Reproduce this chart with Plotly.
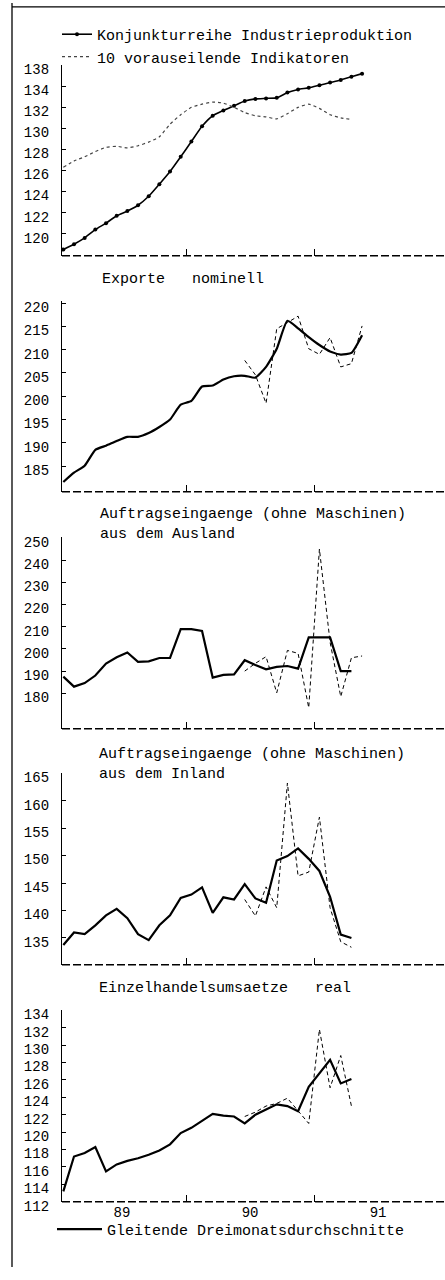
import plotly.graph_objects as go

# ---------------- data (month index: 0 = Jan 1989) ----------------
year_labels = ["89", "90", "91"]
year_label_pos = [6, 18, 30]      # mid-year (months)
year_bounds = [12, 24]            # year boundaries (months)

# Panel 1
ip_months = list(range(29))
ip = [118.5, 119.0, 119.6, 120.4, 121.0, 121.7, 122.15, 122.7, 123.55, 124.7,
      125.9, 127.3, 128.75, 130.2, 131.2, 131.7, 132.15, 132.6, 132.8, 132.85,
      132.9, 133.4, 133.7, 133.85, 134.1, 134.35, 134.6, 134.9, 135.2]
ind_months = list(range(28))
ind = [126.3, 126.9, 127.3, 127.8, 128.2, 128.3, 128.15, 128.35, 128.7, 129.2,
       130.4, 131.3, 132.0, 132.3, 132.5, 132.4, 132.0, 131.5, 131.2, 131.1,
       130.9, 131.4, 132.0, 132.3, 131.9, 131.3, 131.0, 130.85]

# Panel 2: Exporte nominell
exp_ma_months = list(range(29))
exp_ma = [181.6, 183.6, 185.1, 188.5, 189.4, 190.4, 191.3, 191.3, 192.1, 193.4,
          195.0, 198.2, 199.0, 202.1, 202.3, 203.6, 204.3, 204.4, 204.0, 206.3,
          210.2, 216.2, 214.6, 212.7, 211.0, 209.6, 208.95, 209.3, 213.1]
exp_raw_months = list(range(17, 29))
exp_raw = [207.7, 204.6, 198.5, 214.5, 215.8, 217.2, 210.2, 209.0, 212.6, 206.3,
           207.0, 215.1]

# Panel 3: Auftragseingaenge Ausland
aus_ma_months = list(range(28))
aus_ma = [187.5, 183.0, 184.6, 188.0, 193.4, 196.2, 198.4, 194.2, 194.4, 195.9,
          195.9, 208.9, 208.9, 208.1, 187.1, 188.3, 188.5, 194.9, 192.7, 190.8,
          191.9, 192.3, 191.1, 205.2, 205.2, 205.2, 190.0, 190.0]
aus_raw_months = list(range(17, 29))
aus_raw = [190.0, 193.5, 196.5, 180.2, 199.3, 198.0, 173.5, 245.0, 203.0, 178.5,
           196.0, 196.8]

# Panel 4: Auftragseingaenge Inland
inl_ma_months = list(range(28))
inl_ma = [133.7, 136.0, 135.7, 137.3, 139.1, 140.3, 138.6, 135.7, 134.6, 137.3,
          139.1, 142.3, 142.9, 144.2, 139.55, 142.4, 142.0, 144.8, 142.2, 141.4,
          149.1, 149.9, 151.3, 149.4, 147.2, 142.5, 135.6, 135.0]
inl_raw_months = list(range(17, 28))
inl_raw = [142.0, 139.0, 144.3, 140.5, 163.2, 146.3, 147.0, 157.0, 140.5, 134.3,
           133.3]

# Panel 5: Einzelhandelsumsaetze real
ein_ma_months = list(range(28))
ein_ma = [113.2, 117.2, 117.6, 118.3, 115.5, 116.3, 116.7, 117.0, 117.4, 117.9,
          118.6, 119.9, 120.5, 121.3, 122.1, 121.9, 121.8, 121.0, 122.0, 122.6,
          123.2, 123.0, 122.4, 125.2, 126.7, 128.3, 125.6, 126.1]
ein_raw_months = list(range(17, 28))
ein_raw = [121.8, 122.3, 123.0, 123.3, 123.9, 122.4, 121.0, 131.8, 125.1, 128.8,
           123.0]

# y axes: ranges / ticks
p1_ticks = [120, 122, 124, 126, 128, 130, 132, 134, 136]
p1_ticktext = ["120", "122", "124", "126", "128", "130", "132", "134", "138"]
p2_ticks = [185, 190, 195, 200, 205, 210, 215, 220]
p3_ticks = [180, 190, 200, 210, 220, 230, 240, 250]
p4_ticks = [135, 140, 145, 150, 155, 160, 165]
p5_ticks = [112, 114, 116, 118, 120, 122, 124, 126, 128, 130, 132, 134]

W, H = 445, 1280
FONT = "Liberation Mono"


def mid(ms):
    return [m + 0.5 for m in ms]


def px_x(p):
    return p / W


def px_y(p):
    return 1 - p / H


fig = go.Figure()

MA_LINE = dict(color="black", width=2.2)
RAW_LINE = dict(color="black", width=1, dash="4px,3px")

# panel 1
fig.add_trace(go.Scatter(x=mid(ip_months), y=ip, mode="lines+markers",
                         name="Konjunkturreihe Industrieproduktion",
                         line=dict(color="black", width=1.6, shape="spline", smoothing=0.5),
                         marker=dict(size=4, color="black"),
                         xaxis="x", yaxis="y", legend="legend"))
fig.add_trace(go.Scatter(x=mid(ind_months), y=ind, mode="lines",
                         name="10 vorauseilende Indikatoren",
                         line=dict(color="#444", width=1.2, dash="dot", shape="spline", smoothing=0.5),
                         xaxis="x", yaxis="y", legend="legend"))
# panel 2
fig.add_trace(go.Scatter(x=mid(exp_raw_months), y=exp_raw, mode="lines", line=RAW_LINE,
                         showlegend=False, xaxis="x2", yaxis="y2"))
fig.add_trace(go.Scatter(x=mid(exp_ma_months), y=exp_ma, mode="lines",
                         line=dict(color="black", width=2.2, shape="spline", smoothing=0.5),
                         showlegend=False, xaxis="x2", yaxis="y2"))
# panel 3
fig.add_trace(go.Scatter(x=mid(aus_raw_months), y=aus_raw, mode="lines", line=RAW_LINE,
                         showlegend=False, xaxis="x3", yaxis="y3"))
fig.add_trace(go.Scatter(x=mid(aus_ma_months), y=aus_ma, mode="lines", line=MA_LINE,
                         showlegend=False, xaxis="x3", yaxis="y3"))
# panel 4
fig.add_trace(go.Scatter(x=mid(inl_raw_months), y=inl_raw, mode="lines", line=RAW_LINE,
                         showlegend=False, xaxis="x4", yaxis="y4"))
fig.add_trace(go.Scatter(x=mid(inl_ma_months), y=inl_ma, mode="lines", line=MA_LINE,
                         showlegend=False, xaxis="x4", yaxis="y4"))
# panel 5
fig.add_trace(go.Scatter(x=mid(ein_raw_months), y=ein_raw, mode="lines", line=RAW_LINE,
                         showlegend=False, xaxis="x5", yaxis="y5"))
fig.add_trace(go.Scatter(x=mid(ein_ma_months), y=ein_ma, mode="lines", line=MA_LINE,
                         name="Gleitende Dreimonatsdurchschnitte",
                         showlegend=True, xaxis="x5", yaxis="y5", legend="legend3"))

# panel pixel boxes (top, bottom)
panels = [
    (63, 256, [117.9, 136.0], p1_ticks, p1_ticktext),
    (302, 495, [179.5, 220.4], p2_ticks, [str(v) for v in p2_ticks]),
    (541, 735, [164.0, 250.3], p3_ticks, [str(v) for v in p3_ticks]),
    (780, 974, [130.1, 165.0], p4_ticks, [str(v) for v in p4_ticks]),
    (1020, 1214, [112.0, 134.0], p5_ticks, [str(v) for v in p5_ticks]),
]

layout = dict(
    width=W, height=H,
    margin=dict(l=0, r=0, t=0, b=0),
    paper_bgcolor="white", plot_bgcolor="white",
    font=dict(family=FONT, color="black"),
    shapes=[], annotations=[],
)

for i, (top, bot, yr, tv, tt) in enumerate(panels, start=1):
    sx = "" if i == 1 else str(i)
    layout["xaxis" + sx] = dict(
        domain=[px_x(62), 1], range=[0.375, 36.27], anchor="y" + sx,
        showgrid=False, zeroline=False, showline=False,
        tickmode="array", tickvals=year_label_pos, ticktext=year_labels,
        ticks="", showticklabels=(i == 5),
        tickfont=dict(family=FONT, size=14, color="black"),
        minor=dict(tickmode="array", tickvals=year_bounds, ticks="inside",
                   ticklen=7, tickwidth=1.3, tickcolor="black", showgrid=False),
        fixedrange=True,
    )
    layout["yaxis" + sx] = dict(
        domain=[px_y(bot), px_y(top)], range=yr, anchor="x" + sx,
        showgrid=False, zeroline=False,
        showline=True, linecolor="black", linewidth=1.3,
        tickmode="array", tickvals=tv, ticktext=tt,
        ticks="inside", ticklen=4, tickwidth=1, tickcolor="black",
        tickfont=dict(family=FONT, size=14, color="black"),
        ticklabelstandoff=9, ticklabelshift=4,
        fixedrange=True,
    )
    layout["shapes"].append(dict(
        type="line", xref="x%s domain" % sx, yref="y%s domain" % sx,
        x0=0, x1=1, y0=0, y1=0,
        line=dict(color="black", width=1.5, dash="8px,3px")))

# page frame (scan margin lines)
layout["shapes"].append(dict(type="line", xref="paper", yref="paper",
                             x0=px_x(12), x1=px_x(12), y0=0, y1=1,
                             line=dict(color="black", width=1.3)))
layout["shapes"].append(dict(type="line", xref="paper", yref="paper",
                             x0=px_x(12), x1=1, y0=px_y(4), y1=px_y(4),
                             line=dict(color="black", width=1.3)))

NB = "\u00a0"
titles = [
    ("Exporte" + NB * 3 + "nominell", 100, 280),
    ("Auftragseingaenge (ohne Maschinen)<br>aus dem Ausland", 98, 528),
    ("Auftragseingaenge (ohne Maschinen)<br>aus dem Inland", 97, 771),
    ("Einzelhandelsumsaetze" + NB * 3 + "real", 97, 998),
]
for txt, x, y in titles:
    layout["annotations"].append(dict(
        text=txt, xref="paper", yref="paper", x=px_x(x), y=px_y(y),
        xanchor="left", yanchor="middle", align="left", showarrow=False,
        font=dict(family=FONT, size=15, color="black")))

leg_common = dict(xanchor="left", yanchor="middle", bgcolor="rgba(0,0,0,0)",
                  borderwidth=0, font=dict(family=FONT, size=15, color="black"),
                  tracegroupgap=0)
layout["legend"] = dict(x=px_x(57), y=px_y(43), itemwidth=30, **leg_common)
layout["legend3"] = dict(x=px_x(52), y=px_y(1242), itemwidth=45, **leg_common)

fig.update_layout(**layout)
fig.write_html("out.html", config={"displayModeBar": False},
               post_script="document.body.style.margin='0px';")
